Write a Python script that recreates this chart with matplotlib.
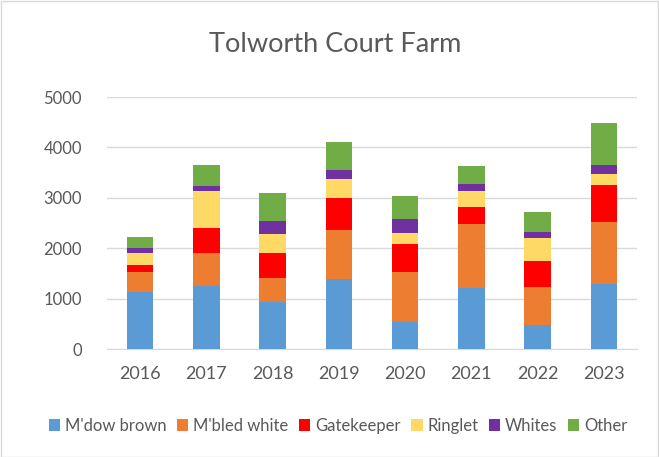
import matplotlib
matplotlib.use("Agg")
import matplotlib.pyplot as plt
import numpy as np

plt.rcParams['font.family'] = ['Lato', 'DejaVu Sans']

years = ["2016", "2017", "2018", "2019", "2020", "2021", "2022", "2023"]
series_names = ["M'dow brown", "M'bled white", "Gatekeeper", "Ringlet", "Whites", "Other"]
mdow_brown = [1140, 1245, 925, 1380, 545, 1205, 475, 1285]
mbled_white = [390, 665, 490, 985, 985, 1280, 760, 1235]
gatekeeper = [145, 495, 490, 630, 550, 330, 520, 735]
ringlet = [225, 730, 370, 385, 225, 325, 445, 220]
whites = [110, 105, 265, 175, 265, 140, 120, 185]
other = [210, 415, 560, 555, 475, 355, 390, 825]
colors = ["#5B9BD5", "#ED7D31", "#FF0000", "#FFD966", "#7030A0", "#70AD47"]
yticks = [0, 1000, 2000, 3000, 4000, 5000]

W, H = 659, 457
fig = plt.figure(figsize=(W / 100, H / 100), dpi=100)
ax = fig.add_axes([107 / W, 1 - 349 / H, (637 - 107) / W, (349 - 97) / H])

x = np.arange(len(years))
bottom = np.zeros(len(years))
for name, vals, c in zip(series_names, [mdow_brown, mbled_white, gatekeeper, ringlet, whites, other], colors):
    ax.bar(x, vals, bottom=bottom, width=0.4, color=c, label=name, zorder=3)
    bottom += np.array(vals)

ax.set_xlim(-0.5, len(years) - 0.5)
ax.set_ylim(0, 5000)
ax.set_yticks(yticks)
ax.set_yticklabels([str(v) for v in yticks])
ax.set_xticks(x)
ax.set_xticklabels(years)
ax.grid(axis='y', color='#d9d9d9', linewidth=1, zorder=0)
for s in ['top', 'right', 'left']:
    ax.spines[s].set_visible(False)
ax.spines['bottom'].set_color('#d9d9d9')
ax.tick_params(axis='both', length=0, colors='#595959')
ax.tick_params(axis='y', labelsize=12, pad=18)
ax.tick_params(axis='x', labelsize=13, pad=12)

fig.text(335 / W, 1 - 45 / H, "Tolworth Court Farm", ha='center', va='center', fontsize=19.5, color='#595959')

handles, labels = ax.get_legend_handles_labels()
leg = fig.legend(handles, labels, loc='center', bbox_to_anchor=(338 / W, 1 - 426 / H), ncol=6,
                 frameon=False, fontsize=12, handlelength=0.7, handleheight=0.7, handletextpad=0.3,
                 columnspacing=0.6, labelcolor='#595959')

fig.patches.append(plt.Rectangle((0.5 / W, 0.5 / H), 1 - 1.5 / W, 1 - 1.5 / H, transform=fig.transFigure,
                                 fill=False, edgecolor='#d9d9d9', linewidth=1))

fig.savefig("out.png", dpi=100)
